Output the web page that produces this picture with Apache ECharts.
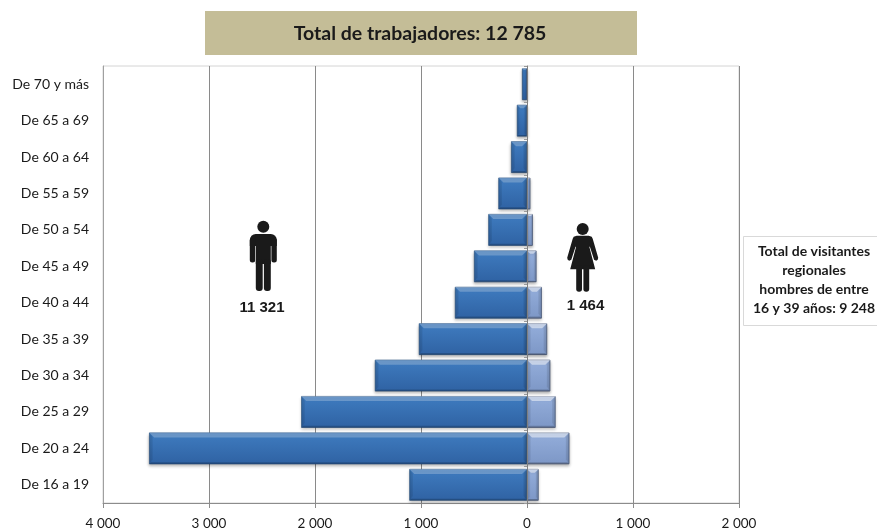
<!DOCTYPE html>
<html>
<head>
<meta charset="utf-8">
<style>html,body{margin:0;padding:0;background:#fff}#c{width:877px;height:531px}</style>
<script src="https://cdn.jsdelivr.net/npm/echarts@6/dist/echarts.min.js"></script>
</head>
<body>
<div id="c"></div>
<script>
const categories = ['De 16 a 19','De 20 a 24','De 25 a 29','De 30 a 34','De 35 a 39','De 40 a 44','De 45 a 49','De 50 a 54','De 55 a 59','De 60 a 64','De 65 a 69','De 70 y más'];
const menValues = [-1110,-3565,-2130,-1435,-1020,-680,-500,-365,-270,-150,-95,-47];
const womenValues = [110,400,270,220,190,140,90,55,32,8,6,4];
const titleText = 'Total de trabajadores: 12 785';
const noteLines = ['Total de visitantes','regionales','hombres de entre','16 y 39 años: 9 248'];
const menTotal = '11 321';
const womenTotal = '1 464';

const chart = echarts.init(document.getElementById('c'));
const fmt = v => { const a = Math.abs(v); return a === 0 ? '0' : Math.floor(a/1000) + ' ' + String(a%1000).padStart(3,'0'); };
const BAND = 0.87;

const bevel = (topAlpha) => function (params, api) {
  const p = api.coord([api.value(0), api.value(1)]);
  const o = api.coord([0, api.value(1)]);
  const h = api.size([0, 1])[1] * BAND;
  const x0 = Math.min(p[0], o[0]), x1 = Math.max(p[0], o[0]);
  const y0 = p[1] - h/2, y1 = p[1] + h/2;
  const b = Math.min(5, (x1 - x0) / 3);
  const poly = (pts, fill) => ({type:'polygon', shape:{points:pts}, style:{fill}, silent:true});
  return {type:'group', children:[
    poly([[x0,y0],[x1,y0],[x1-b,y0+b],[x0+b,y0+b]], 'rgba(255,255,255,'+topAlpha+')'),
    poly([[x0,y0],[x0+b*0.7,y0+b],[x0+b*0.7,y1-b],[x0,y1]], 'rgba(0,0,0,0.08)'),
    poly([[x1,y0],[x1-b*0.7,y0+b],[x1-b*0.7,y1-b],[x1,y1]], 'rgba(0,0,0,0.08)'),
    poly([[x0,y1],[x0+b*0.4,y1-b*0.4],[x1-b*0.4,y1-b*0.4],[x1,y1]], 'rgba(0,0,0,0.18)')
  ]};
};

const vGrad = (a,b) => new echarts.graphic.LinearGradient(0,0,0,1,[{offset:0,color:a},{offset:1,color:b}]);
const ink = '#1a1a1a';
const rr = (x,y,w,h,r) => ({type:'rect',x,y,shape:{width:w,height:h,r},style:{fill:ink}});
const pg = (pts,fill) => ({type:'polygon',shape:{points:pts},style:{fill:fill||ink}});

const mx = 263.3, my = 234;
const manIcon = [
  {type:'circle',shape:{cx:mx,cy:226.7,r:6},style:{fill:ink}},
  rr(mx-13.5,my,27,12,[6,6,0,0]),
  rr(mx-13.5,my+4,5.4,24.5,2.5),
  rr(mx+8.1,my+4,5.4,24.5,2.5),
  rr(mx-7.5,my,15,30,0),
  rr(mx-7.5,my+25,6.9,32,3),
  rr(mx+0.6,my+25,6.9,32,3)
];
const wx = 582.7, wy = 235.7;
const womanIcon = [
  {type:'circle',shape:{cx:wx,cy:229,r:6},style:{fill:ink}},
  pg([[wx-6,wy],[wx+6,wy],[wx+9,wy+1],[wx+10,wy+3],[wx+15.5,wy+22],[wx+15,wy+24],[wx+13.5,wy+25],[wx+11.4,wy+24],[wx+7.2,wy+11],[wx+6.6,wy+11],
      [wx+12.5,wy+33.5],[wx-12.5,wy+33.5],[wx-6.6,wy+11],[wx-7.2,wy+11],[wx-11.4,wy+24],[wx-13.5,wy+25],[wx-15,wy+24],[wx-15.5,wy+22],[wx-10,wy+3],[wx-9,wy+1]]),
  rr(wx-6.5,wy+30,5.8,26,[0,0,2.7,2.7]),
  rr(wx+0.7,wy+30,5.8,26,[0,0,2.7,2.7])
];

chart.setOption({
  animation:false,
  backgroundColor:'#fff',
  grid:{left:103,right:138,top:66,bottom:27,show:true,borderColor:'#d4d4d4',borderWidth:1,backgroundColor:'transparent'},
  xAxis:{type:'value',min:-4000,max:2000,interval:1000,
    axisLine:{show:true,onZero:false,lineStyle:{color:'#8c8c8c'}},
    axisTick:{show:true,length:5,lineStyle:{color:'#8c8c8c'}},
    splitLine:{show:true,lineStyle:{color:'#8a8a8a',width:1}},
    axisLabel:{margin:14,fontFamily:'Lato',fontSize:13.5,color:'#1a1a1a',formatter:fmt}},
  yAxis:[
    {type:'category',data:categories,position:'left',
      axisLine:{show:true,onZero:false,lineStyle:{color:'#a0a0a0'}},
      axisTick:{show:false},
      axisLabel:{margin:14,fontFamily:'Lato',fontSize:14,color:'#1a1a1a',padding:[4,0,0,0]}},
    {type:'category',data:categories,position:'left',z:6,
      axisLine:{show:true,onZero:true,lineStyle:{color:'#7f7f7f',width:1}},
      axisTick:{show:true,length:3,lineStyle:{color:'#9a9a9a'}},
      axisLabel:{show:false}}
  ],
  series:[
    {name:'Hombres',type:'bar',data:menValues,barGap:'-100%',barWidth:(BAND*100)+'%',z:2,
      itemStyle:{color:vGrad('#3f7cc0','#2f62a3'),borderColor:'#27507f',borderWidth:0.6,
        shadowColor:'rgba(0,0,0,0.3)',shadowBlur:3,shadowOffsetY:2}},
    {name:'Mujeres',type:'bar',data:womenValues,barWidth:(BAND*100)+'%',z:2,
      itemStyle:{color:vGrad('#94aedb','#7d97c6'),borderColor:'#4f6080',borderWidth:0.8,
        shadowColor:'rgba(0,0,0,0.3)',shadowBlur:3,shadowOffsetY:2}},
    {name:'bisel-h',type:'custom',renderItem:bevel(0.24),silent:true,z:3,encode:{x:0,y:1},
      data:menValues.map((v,i)=>[v,i])},
    {name:'bisel-m',type:'custom',renderItem:bevel(0.5),silent:true,z:3,encode:{x:0,y:1},
      data:womenValues.map((v,i)=>[v,i])}
  ],
  graphic:[
    {type:'rect',x:205,y:11,shape:{width:432,height:44},style:{fill:'#c4bd97'}},
    {type:'text',x:420,y:34,style:{text:titleText,font:'bold 19.5px Lato',fill:'#1a1a1a',textAlign:'center',textVerticalAlign:'middle'}},
    {type:'rect',x:743.5,y:236.5,shape:{width:140,height:89},style:{fill:'#fff',stroke:'#d9d9d9',lineWidth:1}},
    ...noteLines.map((t,i)=>({type:'text',x:814,y:251.5+i*19,style:{text:t,font:'bold 14px Lato',fill:'#1a1a1a',textAlign:'center',textVerticalAlign:'middle'}})),
    ...manIcon,
    ...womanIcon,
    {type:'text',x:262,y:308,style:{text:menTotal,font:'bold 15px "Liberation Sans"',fill:'#1a1a1a',textAlign:'center',textVerticalAlign:'middle'}},
    {type:'text',x:585.5,y:306,style:{text:womenTotal,font:'bold 15px "Liberation Sans"',fill:'#1a1a1a',textAlign:'center',textVerticalAlign:'middle'}}
  ]
});
</script>
</body>
</html>
